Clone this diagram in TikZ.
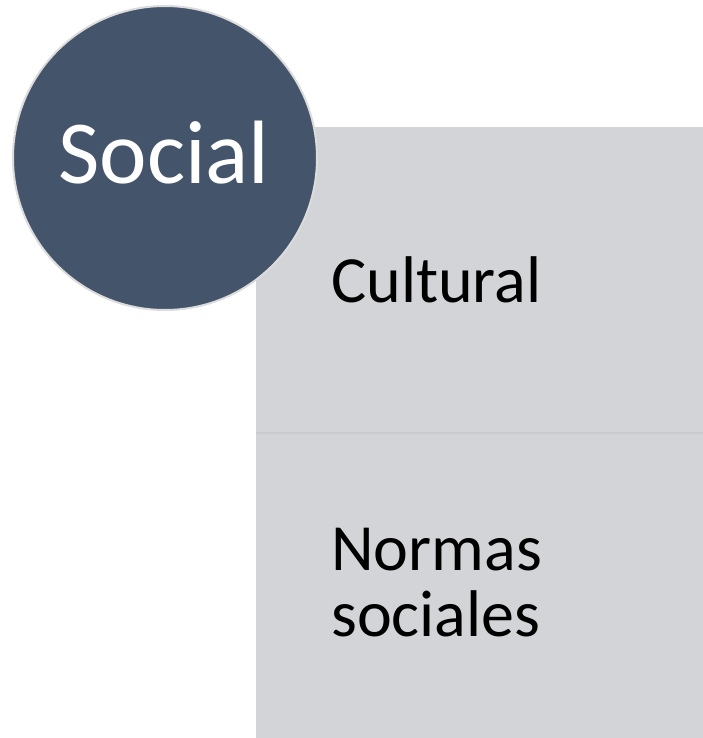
\documentclass[tikz,border=0pt]{standalone}
\usepackage{fontspec}
\setmainfont{Carlito}
\definecolor{circfill}{HTML}{44546A}
\definecolor{panel}{HTML}{D3D4D8}
\definecolor{divider}{HTML}{CACBCF}
\definecolor{ring}{HTML}{DCDCDC}
\tikzset{
  panelbox/.style={fill=panel, draw=none},
  bigcirc/.style={circle, fill=circfill, draw=ring, line width=2pt, minimum size=304pt, inner sep=0pt},
  itemtext/.style={anchor=base west, inner sep=0pt, font=\fontsize{66}{66}\selectfont, text=black},
}
\begin{document}
\begin{tikzpicture}[x=1pt,y=-1pt]
\useasboundingbox (0,0) rectangle (703,738);
\fill[panel] (256,127) rectangle (703,738);
\coordinate (dl) at (256,433);
\coordinate (dr) at (703,433);
\draw[divider, line width=1.5pt] (dl) -- (dr);
\node[bigcirc] (soc) at (165,158) {};
\node[anchor=base, inner sep=0pt, text=white, font=\fontsize{90}{90}\selectfont] (soct) at (164,183) {Social};
\node[itemtext] (cult) at (331,302) {Cultural};
\node[itemtext] (norm) at (331,570) {Normas};
\node[itemtext] (norm2) at (331,636) {sociales};
\end{tikzpicture}
\end{document}
